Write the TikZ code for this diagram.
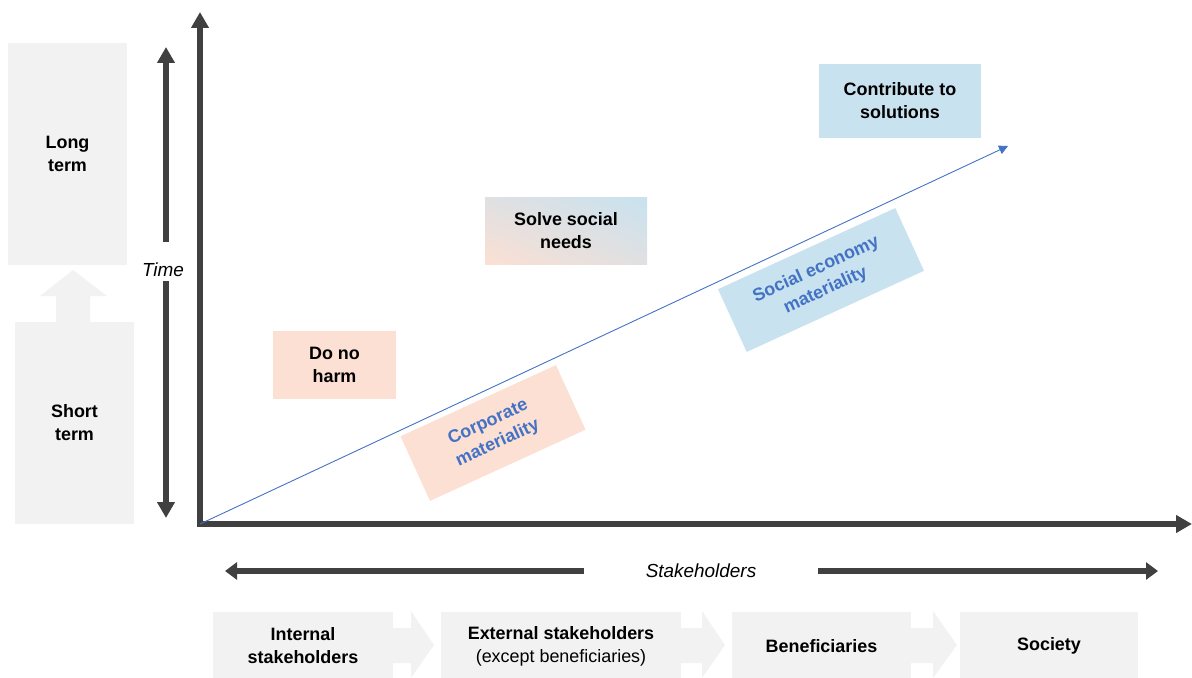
\documentclass[tikz,border=0pt]{standalone}
\RequirePackage{fontspec}
\setmainfont{Liberation Sans}
\RequirePackage{xcolor}
\RequirePackage{tikz}
\usetikzlibrary{arrows.meta, shadings}

\definecolor{darkline}{HTML}{404040}
\definecolor{peach}{HTML}{FBE0D3}
\definecolor{skyblue}{HTML}{C8E2EF}
\definecolor{midgray}{HTML}{E0E0E2}
\definecolor{boxgray}{HTML}{F2F2F2}
\definecolor{matblue}{HTML}{4472C4}

\begin{document}
\begin{tikzpicture}[x=1bp, y=-1bp,
        every node/.style={font=\fontsize{18}{23}\selectfont\bfseries, align=center, inner sep=0pt},
        slanted/.style={font=\fontsize{19}{23}\selectfont\itshape},
        stage/.style={fill=boxgray, minimum height=68bp},
        matter/.style={text=matblue, rotate=24.6},
        bigaxis/.style={color=darkline, line width=5.5bp, line join=miter},
        bigtip/.style={-{Triangle[width=17bp, length=16bp]}}]
    \useasboundingbox (0,0) rectangle (1192,678);

    % time scale on the left
    \node[fill=boxgray, minimum width=119bp, minimum height=222bp] (longterm) at (67.5,154) {Long\\term};
    \node[fill=boxgray, minimum width=119bp, minimum height=202bp] (shortterm) at (74.5,423) {Short\\term};
    \fill[boxgray] (56,322) -- (56,296) -- (40,296) -- (73,270) -- (107,296) -- (90,296) -- (90,322) -- cycle;

    \node[slanted] (time) at (163,270) {Time};
    \coordinate (timetop) at (166,47);
    \coordinate (timebottom) at (166,518);
    \draw[bigaxis, bigtip] (time.center -| timetop) ++(0,-28) -- (timetop);
    \draw[bigaxis, bigtip] (time.center -| timebottom) ++(0,11) -- (timebottom);

    % axes
    \coordinate (origin) at (200,524);
    \coordinate (ytip) at (200,12);
    \coordinate (xtip) at (1192,524);
    \draw[bigaxis, {Triangle[width=17bp, length=16bp]}-{Triangle[width=17bp, length=16bp]}] (ytip) -- (origin) -- (xtip);

    \coordinate (trendtip) at (1008,146);
    \draw[matblue, line width=0.9bp, -{Triangle[width=9bp, length=9bp]}] (origin) -- (trendtip);

    % ambitions
    \node[fill=peach, minimum width=123bp, minimum height=68bp] (harm) at (334.5,365) {Do no\\harm};
    \node[shade, lower left=peach, upper right=skyblue, upper left=midgray, lower right=midgray,
        minimum width=162bp, minimum height=66bp] (needs) at (566,231) {Solve social\\needs};
    \node[fill=skyblue, minimum width=162bp, minimum height=74bp] (solutions) at (900,101) {Contribute to\\solutions};

    \node[matter, fill=peach, minimum width=171bp, minimum height=71bp] (corporate) at (493,433) {Corporate\\materiality};
    \node[matter, fill=skyblue, minimum width=195bp, minimum height=69bp] (socialeco) at (821,280) {Social economy\\materiality};

    % stakeholders
    \node[slanted, inner xsep=62bp] (stake) at (701,571) {Stakeholders};
    \coordinate (stakeleft) at (225,571);
    \coordinate (stakeright) at (1158,571);
    \draw[bigaxis, line width=6bp, -{Triangle[width=17bp, length=12bp]}] (stake.west) -- (stakeleft);
    \draw[bigaxis, line width=6bp, -{Triangle[width=17bp, length=12bp]}] (stake.east) -- (stakeright);

    \foreach \a/\b/\c in {393/411/434, 681/702/725, 911/933/957}
        \fill[boxgray] (\a,628) -- (\b,628) -- (\b,611) -- (\c,645) -- (\b,678) -- (\b,663) -- (\a,663) -- cycle;

    \node[stage, minimum width=180bp] (internal) at (303,646) {Internal\\stakeholders};
    \node[stage, minimum width=240bp] (external) at (561,646) {External stakeholders\\\mdseries(except beneficiaries)};
    \node[stage, minimum width=179bp] (beneficiaries) at (821.5,646) {Beneficiaries};
    \node[stage, minimum width=178bp] (society) at (1049,646) {Society};
\end{tikzpicture}
\end{document}
